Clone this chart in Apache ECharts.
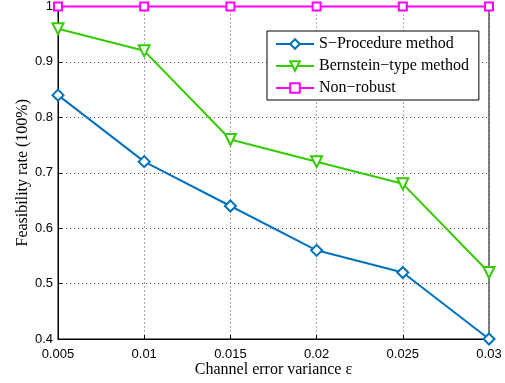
<!DOCTYPE html>
<html>
<head>
<meta charset="utf-8">
<script src="https://cdn.jsdelivr.net/npm/echarts@6/dist/echarts.min.js"></script>
<style>
  html, body { margin: 0; padding: 0; background: #fff; }
  #chart { width: 505px; height: 383px; }
</style>
</head>
<body>
<div id="chart"></div>
<script>
  // channel error variance
  var xValues = [0.005, 0.01, 0.015, 0.02, 0.025, 0.03];
  var sProcedure = [0.84, 0.72, 0.64, 0.56, 0.52, 0.40];
  var bernstein = [0.96, 0.92, 0.76, 0.72, 0.68, 0.52];
  var nonRobust = [1, 1, 1, 1, 1, 1];
  var seriesNames = ['S\u2212Procedure method', 'Bernstein\u2212type method', 'Non\u2212robust'];

  function pairs(ys) {
    return xValues.map(function (x, i) { return [x, ys[i]]; });
  }

  var chart = echarts.init(document.getElementById('chart'));
  var gridLine = { show: true, lineStyle: { color: '#555', type: [1, 3], width: 1 } };
  var option = {
    animation: false,
    backgroundColor: '#fff',
    grid: {
      left: 58, right: 16, top: 5, bottom: 43,
      show: true, borderColor: '#000', borderWidth: 1
    },
    legend: {
      orient: 'vertical',
      left: 267, top: 31,
      padding: [5, 10, 4, 8],
      itemWidth: 38, itemHeight: 12,
      itemGap: 6,
      backgroundColor: '#fff',
      borderColor: '#000', borderWidth: 1,
      textStyle: { fontFamily: 'Liberation Serif', fontSize: 16, color: '#000', width: 150 },
      data: seriesNames
    },
    xAxis: {
      type: 'value',
      min: 0.005, max: 0.03, interval: 0.005,
      name: 'Channel error variance \u03b5',
      nameLocation: 'middle', nameGap: 23, nameMoveOverlap: false,
      nameTextStyle: { fontFamily: 'Liberation Serif', fontSize: 16, color: '#000' },
      axisLine: { lineStyle: { color: '#000' } },
      axisTick: { inside: true, length: 4, lineStyle: { color: '#000' } },
      axisLabel: {
        fontFamily: 'Liberation Sans', fontSize: 13, color: '#000', margin: 9,
        formatter: function (v) { return String(parseFloat(v.toFixed(3))); }
      },
      splitLine: gridLine
    },
    yAxis: {
      type: 'value',
      min: 0.4, max: 1, interval: 0.1,
      name: 'Feasibility rate (100%)',
      nameLocation: 'middle', nameGap: 27, nameMoveOverlap: false,
      nameTextStyle: { fontFamily: 'Liberation Serif', fontSize: 16, color: '#000' },
      axisLine: { show: true, lineStyle: { color: '#000' } },
      axisTick: { show: true, inside: true, length: 4, lineStyle: { color: '#000' } },
      axisLabel: {
        fontFamily: 'Liberation Sans', fontSize: 13, color: '#000', margin: 5,
        formatter: function (v) { return String(parseFloat(v.toFixed(2))); }
      },
      splitLine: gridLine
    },
    series: [
      {
        name: seriesNames[0], type: 'line', data: pairs(sProcedure),
        symbol: 'emptyDiamond', symbolSize: 11, clip: false,
        lineStyle: { color: '#0072bd', width: 2 },
        itemStyle: { color: '#0072bd', borderWidth: 2 }
      },
      {
        name: seriesNames[1], type: 'line', data: pairs(bernstein),
        symbol: 'emptyTriangle', symbolRotate: 180, symbolSize: 11, clip: false,
        lineStyle: { color: '#33cc00', width: 2 },
        itemStyle: { color: '#33cc00', borderWidth: 2 }
      },
      {
        name: seriesNames[2], type: 'line', data: pairs(nonRobust),
        symbol: 'emptyRect', symbolSize: 8, clip: false,
        lineStyle: { color: '#ff00ff', width: 2 },
        itemStyle: { color: '#ff00ff', borderWidth: 2 }
      }
    ]
  };
  chart.setOption(option);
</script>
</body>
</html>
